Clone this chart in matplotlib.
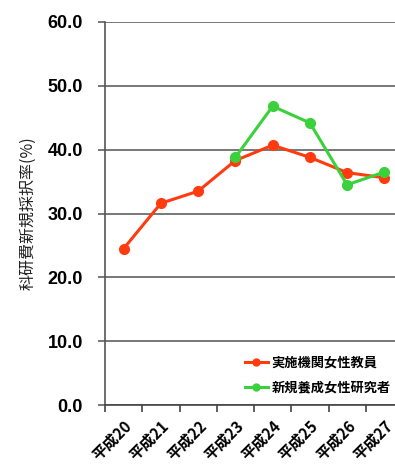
import matplotlib.pyplot as plt
import numpy as np

plt.rcParams['font.family'] = ['Liberation Sans', 'Noto Sans CJK JP']

# 年度ごとの採択率 (%)
years = ["平成20", "平成21", "平成22", "平成23", "平成24", "平成25", "平成26", "平成27"]
faculty_rate = [24.5, 31.6, 33.5, 38.3, 40.7, 38.8, 36.4, 35.6]
trainee_years = ["平成23", "平成24", "平成25", "平成26", "平成27"]
trainee_rate = [38.8, 46.8, 44.2, 34.5, 36.5]

series_labels = ["実施機関女性教員", "新規養成女性研究者"]
yticks = [0, 10, 20, 30, 40, 50, 60]

RED = "#ff3b0f"
GREEN = "#3ad13a"

fig = plt.figure(figsize=(3.95, 4.68), dpi=100)
ax = fig.add_axes([105 / 395, 63 / 468, 298 / 395, 383 / 468])

x = np.arange(len(years))
xt = np.array([years.index(y) for y in trainee_years])

ax.plot(x, faculty_rate, color=RED, lw=2.2, marker="o", ms=7, label=series_labels[0], zorder=3)
ax.plot(xt, trainee_rate, color=GREEN, lw=2.2, marker="o", ms=7, label=series_labels[1], zorder=4)

ax.set_xlim(-0.5, len(years) - 0.5)
ax.set_ylim(0, 60)
ax.set_yticks(yticks)
ax.set_yticklabels([f"{v:.1f}" for v in yticks], fontsize=13, fontweight="bold")
ax.yaxis.grid(True, color="#777777", lw=1.4)
ax.set_axisbelow(True)

ax.set_xticks(x)
ax.set_xticklabels(years, rotation=45, ha="right", rotation_mode="anchor",
                   fontsize=11, fontweight="bold", family=["Noto Sans CJK JP"])
ax.set_xticks(np.arange(len(years) + 1) - 0.5, minor=True)
ax.tick_params(axis="x", which="major", length=0, pad=9)
ax.tick_params(axis="x", which="minor", length=5, width=1.2, color="#444444")
ax.tick_params(axis="y", length=5, width=1.4, color="#777777", pad=11)

for side in ["top", "right"]:
    ax.spines[side].set_visible(False)
ax.spines["left"].set_color("#555555")
ax.spines["left"].set_linewidth(1.2)
ax.spines["bottom"].set_color("#444444")
ax.spines["bottom"].set_linewidth(1.2)

ax.set_ylabel("科研費新規採択率(%)", fontsize=11.5, family=["Noto Sans CJK JP"],
              color="#222222", labelpad=8)

leg = ax.legend(loc="upper left", bbox_to_anchor=(238 / 395, 1 - 349 / 468),
                bbox_transform=fig.transFigure, frameon=False, borderpad=0,
                handlelength=1.75, handletextpad=0.3, labelspacing=0.85,
                prop={"family": "Noto Sans CJK JP", "size": 9.5, "weight": "bold"})
for h in leg.legend_handles:
    h.set_markersize(5)

fig.savefig("out.png", dpi=100)
